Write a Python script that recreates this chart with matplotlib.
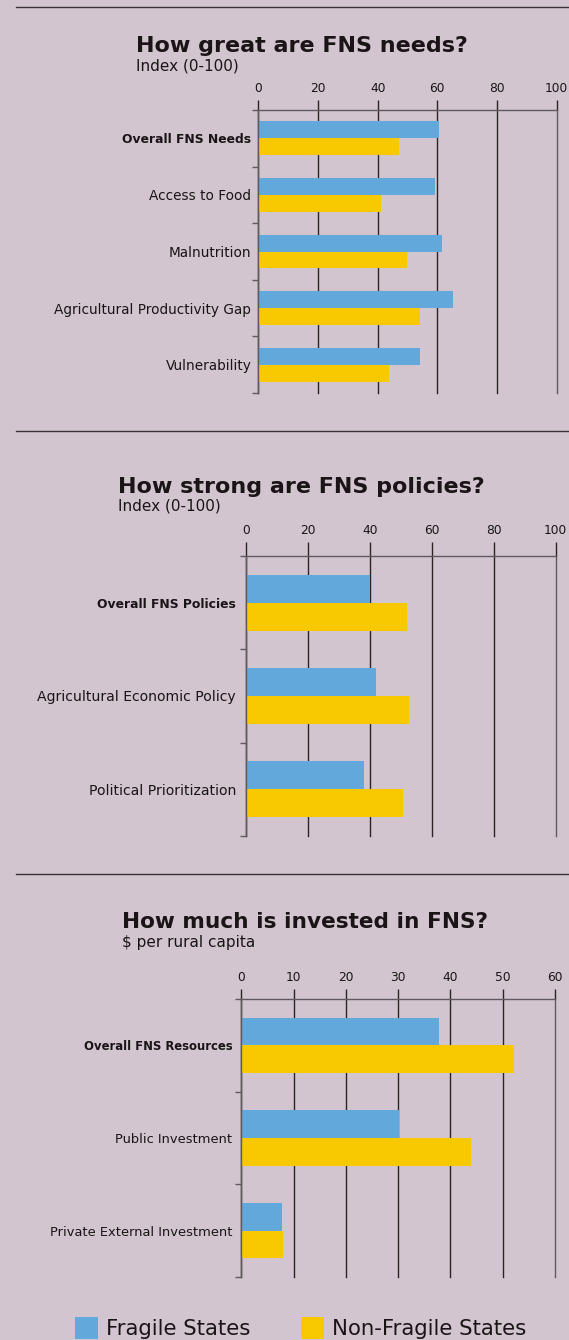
# FNS needs / policies / investment: fragile vs non-fragile states
import numpy as np
import matplotlib.pyplot as plt
from matplotlib.patches import Patch
from matplotlib.lines import Line2D

plt.rcParams['font.family'] = ['DejaVu Sans']

W, H = 569, 1340
BG = '#d2c5d0'
BLUE = '#62a8da'
YELLOW = '#f8c800'
GRID = '#2b2326'
SPINE = '#615a5d'
TXT = '#1a1416'

# ---- data ----
needs_cats = ['Overall FNS Needs', 'Access to Food', 'Malnutrition',
              'Agricultural Productivity Gap', 'Vulnerability']
needs_fragile = [60.6, 59.1, 61.7, 65.4, 54.2]
needs_nonfragile = [47.2, 41.1, 49.7, 54.1, 43.8]

policy_cats = ['Overall FNS Policies', 'Agricultural Economic Policy',
               'Political Prioritization']
policy_fragile = [40.0, 42.0, 38.1]
policy_nonfragile = [51.9, 52.8, 50.6]

invest_cats = ['Overall FNS Resources', 'Public Investment',
               'Private External Investment']
invest_fragile = [37.8, 30.2, 7.8]
invest_nonfragile = [52.1, 44.0, 8.0]

needs_ticks = [0, 20, 40, 60, 80, 100]
policy_ticks = [0, 20, 40, 60, 80, 100]
invest_ticks = [0, 10, 20, 30, 40, 50, 60]


def px_rect(left, right, top, bottom):
    return [left / W, 1 - bottom / H, (right - left) / W, (bottom - top) / H]


def fy(y):
    return 1 - y / H


def draw_panel(ax, cats, fragile, nonfragile, ticks, lab_size, bold_size,
               lab_pad, tick_len):
    n = len(cats)
    y = np.arange(n)
    ax.barh(y - 0.15, fragile, height=0.3, color=BLUE, zorder=2)
    ax.barh(y + 0.15, nonfragile, height=0.3, color=YELLOW, zorder=2)

    ax.set_xlim(ticks[0], ticks[-1])
    ax.set_ylim(n - 0.5, -0.5)
    ax.set_facecolor('none')
    ax.set_axisbelow(True)

    ax.set_xticks(ticks)
    ax.xaxis.set_ticks_position('top')
    ax.tick_params(axis='x', which='major', direction='out', length=tick_len,
                   width=1.0, color=GRID, labelsize=8.8, pad=4,
                   labelcolor=TXT, top=True, bottom=False,
                   labeltop=True, labelbottom=False)
    ax.grid(axis='x', color=GRID, lw=1.0)
    for gl in ax.get_xgridlines():
        gl.set_clip_on(False)
    ax.get_xgridlines()[-1].set_color(SPINE)

    ax.set_yticks(y)
    ax.set_yticklabels(cats, fontsize=lab_size, color=TXT)
    ax.get_yticklabels()[0].set_fontweight('bold')
    ax.get_yticklabels()[0].set_fontsize(bold_size)
    ax.set_yticks(np.arange(-0.5, n), minor=True)
    ax.tick_params(axis='y', which='major', length=0, pad=lab_pad)
    ax.tick_params(axis='y', which='minor', length=4, width=1.0,
                   color=SPINE, direction='out')

    for side in ['bottom', 'right']:
        ax.spines[side].set_visible(False)
    for side in ['top', 'left']:
        ax.spines[side].set_color(SPINE)
        ax.spines[side].set_linewidth(1.0)


fig = plt.figure(figsize=(W / 100, H / 100), dpi=100, facecolor=BG)

# separators
for yy in [7, 431, 874]:
    fig.add_artist(Line2D([16 / W, 1], [fy(yy), fy(yy)],
                          transform=fig.transFigure, color='#3a3336', lw=1.0))

# panel 1
ax1 = fig.add_axes(px_rect(258.3, 556.7, 110, 393))
draw_panel(ax1, needs_cats, needs_fragile, needs_nonfragile, needs_ticks,
           9.8, 8.9, 5, 7)
fig.text(136 / W, fy(51.7), 'How great are FNS needs?', fontsize=16,
         fontweight='bold', color=TXT, va='baseline')
fig.text(136 / W, fy(70.7), 'Index (0-100)', fontsize=11, color=TXT,
         va='baseline')

# panel 2
ax2 = fig.add_axes(px_rect(245.7, 555.7, 556, 836))
draw_panel(ax2, policy_cats, policy_fragile, policy_nonfragile, policy_ticks,
           10.1, 8.9, 7, 10)
fig.text(118 / W, fy(492.7), 'How strong are FNS policies?', fontsize=16,
         fontweight='bold', color=TXT, va='baseline')
fig.text(118 / W, fy(510.7), 'Index (0-100)', fontsize=11, color=TXT,
         va='baseline')

# panel 3
ax3 = fig.add_axes(px_rect(241.3, 555, 999, 1277))
draw_panel(ax3, invest_cats, invest_fragile, invest_nonfragile, invest_ticks,
           9.4, 8.4, 6.5, 7)
fig.text(121.5 / W, fy(928.3), 'How much is invested in FNS?', fontsize=15.6,
         fontweight='bold', color=TXT, va='baseline')
fig.text(121.5 / W, fy(947), '$ per rural capita', fontsize=11, color=TXT,
         va='baseline')

# legend
legend_elements = [
    Patch(facecolor=BLUE, edgecolor='none', label='Fragile States'),
    Patch(facecolor=YELLOW, edgecolor='none', label='Non-Fragile States'),
]
fig.legend(handles=legend_elements, loc='upper left',
           bbox_to_anchor=(75 / W, fy(1317)), ncol=2, frameon=False,
           fontsize=15.3, handlelength=1.1, handleheight=1.2,
           handletextpad=0.38, columnspacing=2.35, borderpad=0,
           borderaxespad=0, labelcolor=TXT)

fig.savefig('out.png', dpi=100, facecolor=BG)
